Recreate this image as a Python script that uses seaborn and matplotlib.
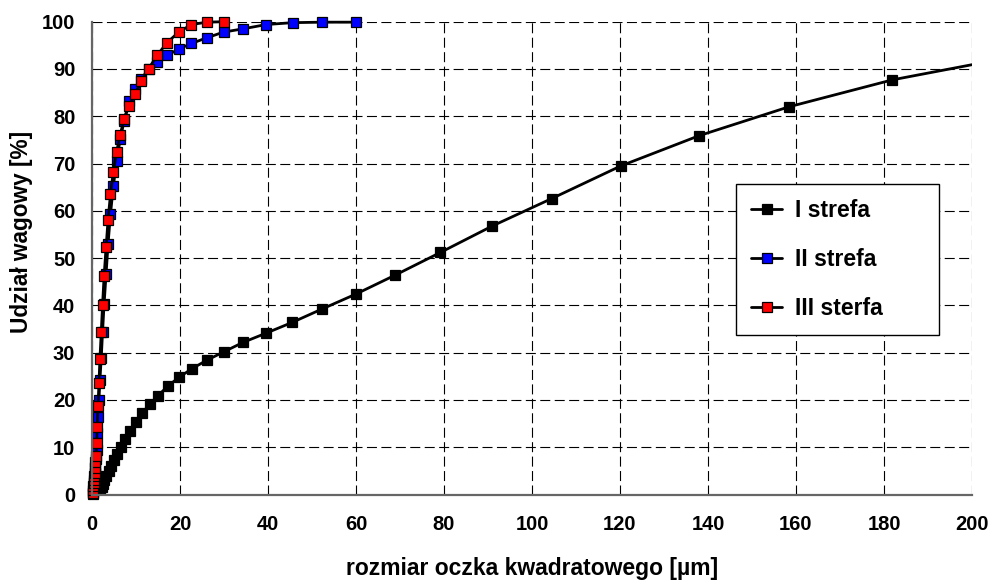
import matplotlib
matplotlib.use("Agg")
import matplotlib.pyplot as plt
import seaborn as sns
import pandas as pd

# ---- data ----
labels = ["I strefa", "II strefa", "III sterfa"]

x_I = [1.24, 1.43, 1.64, 1.88, 2.16, 2.48, 2.84, 3.27, 3.75, 4.3, 4.95, 5.7,
       6.5, 7.5, 8.6, 9.9, 11.4, 13.1, 15.0, 17.2, 19.8, 22.7, 26.1, 30.0,
       34.4, 39.5, 45.5, 52.2, 60.0, 68.9, 79.2, 91.0, 104.5, 120.2, 138.0,
       158.4, 181.9, 209.0]
y_I = [0.2, 0.4, 0.7, 1.1, 1.6, 2.2, 3.0, 3.9, 4.9, 6.0, 7.3, 8.6,
       10.1, 11.7, 13.4, 15.3, 17.2, 19.1, 20.9, 22.9, 24.8, 26.6, 28.4, 30.2,
       32.2, 34.1, 36.4, 39.2, 42.4, 46.4, 51.2, 56.8, 62.6, 69.5, 75.9,
       82.0, 87.7, 92.5]

x_II = [0.30, 0.34, 0.39, 0.45, 0.52, 0.60, 0.68, 0.79, 0.90, 1.04, 1.2, 1.37,
        1.58, 1.8, 2.1, 2.4, 2.75, 3.2, 3.65, 4.2, 4.85, 5.6, 6.4, 7.3, 8.4,
        9.8, 11.2, 12.9, 14.8, 17.1, 19.7, 22.6, 26.1, 29.9, 34.4, 39.6, 45.6,
        52.3, 60.0]
y_II = [0.2, 0.6, 1.2, 1.9, 2.7, 3.6, 4.6, 5.8, 7.5, 9.4, 13.1, 16.3,
        20.0, 24.2, 28.8, 34.4, 40.3, 46.6, 53.0, 59.3, 65.2, 70.5, 75.1, 79.0,
        83.2, 85.7, 87.9, 90.0, 91.5, 92.9, 94.2, 95.4, 96.6, 97.8, 98.5, 99.4,
        99.8, 99.9, 99.9]

x_III = [0.26, 0.30, 0.34, 0.39, 0.45, 0.52, 0.60, 0.68, 0.79, 0.90, 1.04,
         1.2, 1.37, 1.58, 1.8, 2.1, 2.4, 2.75, 3.2, 3.65, 4.2, 4.85, 5.6, 6.4,
         7.3, 8.4, 9.8, 11.2, 12.9, 14.8, 17.1, 19.7, 22.6, 26.1, 29.9]
y_III = [0.3, 1.0, 1.7, 2.4, 3.1, 3.9, 4.6, 5.5, 6.8, 8.2, 10.8,
         14.3, 18.8, 23.5, 28.7, 34.3, 40.1, 46.2, 52.3, 58.1, 63.5, 68.3, 72.5,
         76.1, 79.4, 82.2, 84.7, 87.4, 90.1, 92.9, 95.6, 97.8, 99.4, 99.9, 100.0]

x_ticks = [0, 20, 40, 60, 80, 100, 120, 140, 160, 180, 200]
y_ticks = [0, 10, 20, 30, 40, 50, 60, 70, 80, 90, 100]

xlabel = "rozmiar oczka kwadratowego [µm]"
ylabel = "Udział wagowy [%]"

# ---- style ----
sns.set_style("white")
plt.rcParams["font.family"] = ["Liberation Sans", "DejaVu Sans"]
plt.rcParams["font.weight"] = "bold"
plt.rcParams["text.color"] = "black"
plt.rcParams["axes.labelcolor"] = "black"
plt.rcParams["xtick.labelcolor"] = "black"
plt.rcParams["ytick.labelcolor"] = "black"

fig = plt.figure(figsize=(9.92, 5.81), dpi=100)
ax = fig.add_axes([92 / 992, (581 - 494.5) / 581, 880 / 992, 472.8 / 581])

series = [
    (x_I, y_I, "black", True),
    (x_II, y_II, "#0000ff", False),
    (x_III, y_III, "#ff0000", False),
]
for (xs, ys, fc, clip), lab in zip(series, labels):
    df = pd.DataFrame({"x": xs, "y": ys})
    sns.lineplot(data=df, x="x", y="y", ax=ax, sort=False, estimator=None,
                 color="black", linewidth=2.0, marker="s", markersize=6.5,
                 markerfacecolor=fc, markeredgecolor="black",
                 markeredgewidth=0.9, label=lab, clip_on=clip)

ax.set_xlim(0, 200)
ax.set_ylim(0, 100)
ax.set_xticks(x_ticks)
ax.set_yticks(y_ticks)
ax.tick_params(axis="both", labelsize=14.5, direction="out", length=5,
               width=1, color="#555555", pad=7)
ax.tick_params(axis="x", pad=10)
for t in ax.get_xticklabels() + ax.get_yticklabels():
    t.set_fontweight("bold")

ax.grid(True, color="black", linewidth=0.8, linestyle=(0, (9, 4)))
ax.set_axisbelow(True)
for s in ["top", "right"]:
    ax.spines[s].set_visible(False)
for s in ["left", "bottom"]:
    ax.spines[s].set_color("#666666")
    ax.spines[s].set_linewidth(1.6)

ax.set_xlabel(xlabel, fontsize=16.5, fontweight="bold", va="center")
ax.set_ylabel(ylabel, fontsize=16.3, fontweight="bold", va="center")
ax.xaxis.set_label_coords(0.5, (494.5 - 568) / 472.8)
ax.yaxis.set_label_coords((22 - 92) / 880, (494.5 - 232) / 472.8)

leg = ax.legend(loc="upper left",
                bbox_to_anchor=(0.732, 0.333, 0.2305, 0.324),
                mode="expand", alignment="center", borderaxespad=0,
                prop={"size": 16.5, "weight": "bold"},
                frameon=True, fancybox=False, framealpha=1,
                edgecolor="black", labelspacing=1.15, borderpad=0.65,
                handlelength=1.35, handletextpad=0.55)
leg.get_frame().set_linewidth(1.0)

fig.savefig("out.png", dpi=100)
